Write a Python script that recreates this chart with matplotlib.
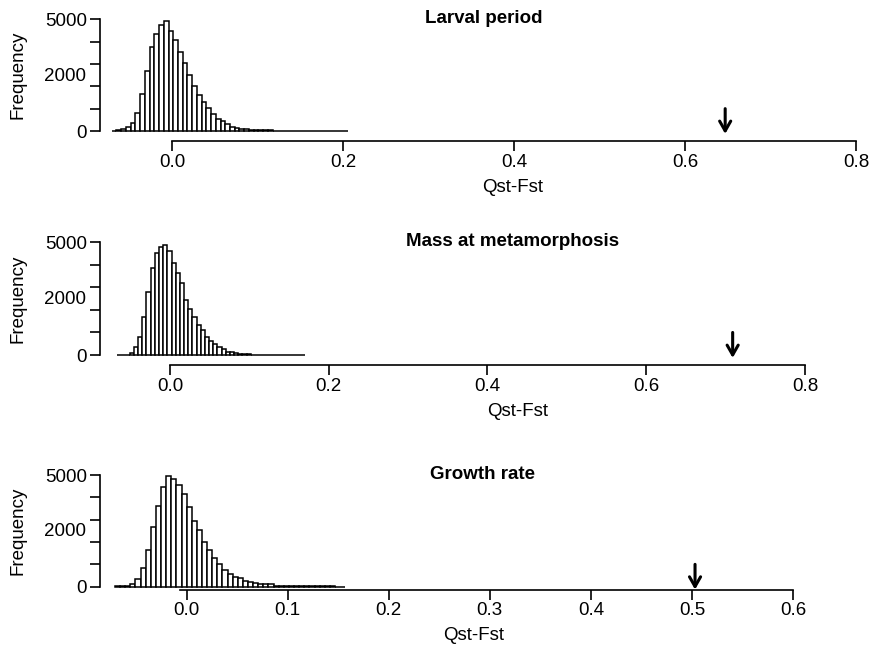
import matplotlib.pyplot as plt

plt.rcParams['font.family'] = ['Liberation Sans', 'DejaVu Sans']

# histogram counts, bins run from start to end
larval_counts = [10, 30, 90, 160, 340, 790, 1650, 2690, 3760, 4340, 4730, 4940,
                 4480, 4080, 3550, 3030, 2490, 2000, 1600, 1320, 1050, 780, 550,
                 470, 300, 200, 140, 100, 80, 60, 45, 35, 30, 25, 20, 18, 15, 12,
                 10, 8, 7, 6, 5, 4, 4, 3, 3, 2, 2, 2]
larval_range = (-0.0705, 0.2062)

mass_counts = [5, 10, 20, 70, 340, 810, 1670, 2780, 3870, 4540, 4780, 4870,
               4600, 4070, 3620, 3210, 2440, 2040, 1670, 1330, 1110, 810, 620,
               470, 340, 270, 150, 150, 70, 60, 50, 30, 20, 15, 12, 10, 8, 7,
               6, 5, 4, 3, 3, 2, 2]
mass_range = (-0.0664, 0.170)

growth_counts = [10, 15, 25, 120, 330, 820, 1630, 2690, 3610, 4480, 4940, 4810,
                 4550, 4150, 3550, 2960, 2550, 2010, 1630, 1300, 1030, 760, 570,
                 450, 370, 240, 190, 180, 120, 120, 110, 45, 45, 40, 40, 40, 40,
                 35, 35, 30, 30, 10, 10, 8, 8]
growth_range = (-0.0707, 0.157)

observed = [0.647, 0.709, 0.503]   # Qst-Fst of the real data (arrows)
titles = ["Larval period", "Mass at metamorphosis", "Growth rate"]
xticks = [[0.0, 0.2, 0.4, 0.6, 0.8], [0.0, 0.2, 0.4, 0.6, 0.8],
          [0.0, 0.1, 0.2, 0.3, 0.4, 0.5, 0.6]]
axis_start = [0.0, 0.0, -0.006]

# pixel layout of each panel: x of 0.0, px per unit, y of 0, y of 5000, y of x-axis line
layout = [(172, 855, 131, 19.3, 141),
          (170, 793.6, 355, 242.3, 365),
          (186.5, 1011, 586.7, 475, 589.5)]
title_x = [425, 406, 430]
xlab_x = [513, 518, 474]

W, H = 872, 655
fig = plt.figure(figsize=(W / 100, H / 100), dpi=100)

panels = [(larval_counts, larval_range), (mass_counts, mass_range),
          (growth_counts, growth_range)]

for i in range(3):
    counts, (lo, hi) = panels[i]
    x0, ppu, y0, y5, yax = layout[i]
    left_px, right_px = 100, 870
    ax = fig.add_axes([left_px / W, 1 - yax / H, (right_px - left_px) / W, (yax - y5) / H])
    ax.set_xlim((left_px - x0) / ppu, (right_px - x0) / ppu)
    ax.set_ylim(-(yax - y0) / (y0 - y5) * 5000, 5000)

    n = len(counts)
    w = (hi - lo) / n
    edges = [lo + k * w for k in range(n)]
    ax.bar(edges, counts, width=w, align='edge', color='white',
           edgecolor='black', linewidth=1.1)

    # arrow for the observed value
    ax.annotate('', xy=(observed[i], -130), xytext=(observed[i], 1000),
                arrowprops=dict(arrowstyle='->,head_length=0.7,head_width=0.4',
                                lw=2.2, color='black', shrinkA=0, shrinkB=0))

    for s in ['top', 'right']:
        ax.spines[s].set_visible(False)
    ax.spines['left'].set_bounds(0, 5000)
    ax.spines['bottom'].set_bounds(axis_start[i], xticks[i][-1])
    ax.spines['left'].set_linewidth(1.2)
    ax.spines['bottom'].set_linewidth(1.2)

    ax.set_yticks([0, 1000, 2000, 3000, 4000, 5000])
    ax.set_yticklabels(['0', '', '', '', '', '5000'])
    ax.text(-0.018, 2460, '2000', transform=ax.get_yaxis_transform(), ha='right',
            va='center', fontsize=13.5)
    ax.set_xticks(xticks[i])
    ax.set_xticklabels(['%.1f' % t for t in xticks[i]])
    ax.tick_params(length=7.2, width=1.2, labelsize=13.5, pad=2)

    fig.text(xlab_x[i] / W, 1 - (yax + 46) / H, 'Qst-Fst', ha='center',
             va='center', fontsize=13.5)
    fig.text(18 / W, 1 - ((y0 + y5) / 2) / H, 'Frequency', rotation=90,
             ha='center', va='center', fontsize=13.5)
    fig.text(title_x[i] / W, 1 - (y5 - 0.5) / H, titles[i], ha='left',
             va='center', fontsize=13.5, fontweight='bold')

fig.savefig('out.png', dpi=100)
